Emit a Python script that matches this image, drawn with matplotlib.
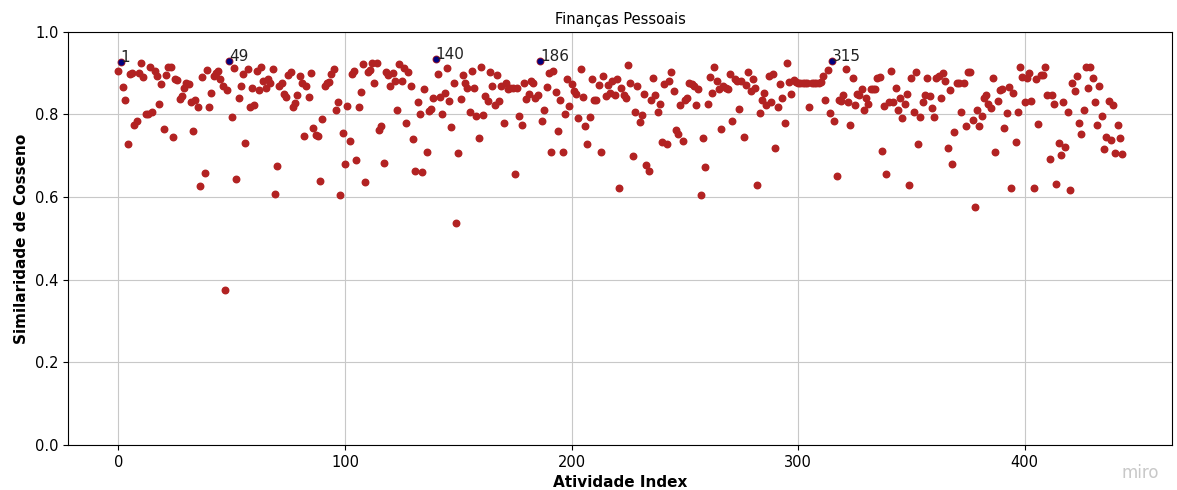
import numpy as np
import matplotlib.pyplot as plt

# cosine similarity per activity (index = position in list)
similaridade = [
    0.905, 0.928, 0.866, 0.835, 0.729, 0.897, 0.900, 0.775, 0.785, 0.900,
    0.924, 0.890, 0.802, 0.800, 0.916, 0.805, 0.905, 0.892, 0.826, 0.874,
    0.764, 0.896, 0.914, 0.914, 0.746, 0.885, 0.883, 0.837, 0.845, 0.863,
    0.877, 0.873, 0.829, 0.759, 0.836, 0.818, 0.626, 0.891, 0.658, 0.907,
    0.818, 0.851, 0.892, 0.900, 0.905, 0.885, 0.870, 0.375, 0.860, 0.930,
    0.795, 0.912, 0.643, 0.840, 0.868, 0.897, 0.732, 0.910, 0.818, 0.864,
    0.823, 0.905, 0.860, 0.914, 0.881, 0.864, 0.885, 0.876, 0.910, 0.608,
    0.676, 0.868, 0.877, 0.850, 0.843, 0.896, 0.904, 0.819, 0.827, 0.846,
    0.893, 0.876, 0.749, 0.868, 0.842, 0.900, 0.767, 0.750, 0.747, 0.638,
    0.790, 0.870, 0.876, 0.878, 0.897, 0.910, 0.811, 0.830, 0.604, 0.755,
    0.680, 0.821, 0.736, 0.897, 0.905, 0.690, 0.817, 0.855, 0.922, 0.636,
    0.902, 0.908, 0.924, 0.876, 0.924, 0.763, 0.771, 0.682, 0.902, 0.896,
    0.868, 0.900, 0.880, 0.811, 0.922, 0.882, 0.912, 0.779, 0.904, 0.868,
    0.740, 0.663, 0.829, 0.800, 0.660, 0.862, 0.710, 0.809, 0.814, 0.841,
    0.934, 0.898, 0.843, 0.800, 0.851, 0.912, 0.833, 0.769, 0.877, 0.538,
    0.706, 0.837, 0.896, 0.877, 0.864, 0.807, 0.906, 0.864, 0.797, 0.742,
    0.914, 0.799, 0.845, 0.833, 0.904, 0.868, 0.822, 0.896, 0.833, 0.868,
    0.779, 0.876, 0.861, 0.864, 0.865, 0.656, 0.864, 0.797, 0.775, 0.877,
    0.838, 0.849, 0.880, 0.877, 0.840, 0.846, 0.930, 0.783, 0.810, 0.866,
    0.900, 0.710, 0.906, 0.855, 0.760, 0.834, 0.710, 0.800, 0.885, 0.821,
    0.874, 0.858, 0.850, 0.791, 0.910, 0.843, 0.771, 0.728, 0.795, 0.886,
    0.834, 0.834, 0.872, 0.710, 0.894, 0.845, 0.872, 0.853, 0.881, 0.847,
    0.885, 0.621, 0.864, 0.848, 0.841, 0.920, 0.877, 0.700, 0.806, 0.868,
    0.781, 0.799, 0.849, 0.678, 0.662, 0.834, 0.888, 0.847, 0.807, 0.825,
    0.734, 0.874, 0.728, 0.880, 0.904, 0.858, 0.763, 0.752, 0.823, 0.736,
    0.834, 0.840, 0.877, 0.873, 0.869, 0.823, 0.862, 0.605, 0.742, 0.672,
    0.825, 0.890, 0.851, 0.916, 0.882, 0.862, 0.764, 0.868, 0.865, 0.861,
    0.897, 0.785, 0.885, 0.881, 0.813, 0.880, 0.745, 0.872, 0.904, 0.858,
    0.885, 0.865, 0.630, 0.803, 0.834, 0.853, 0.823, 0.892, 0.829, 0.898,
    0.718, 0.817, 0.874, 0.840, 0.779, 0.924, 0.878, 0.849, 0.884, 0.878,
    0.877, 0.876, 0.876, 0.877, 0.876, 0.817, 0.876, 0.877, 0.876, 0.877,
    0.878, 0.892, 0.834, 0.908, 0.803, 0.930, 0.785, 0.650, 0.835, 0.833,
    0.846, 0.910, 0.831, 0.775, 0.888, 0.823, 0.849, 0.846, 0.862, 0.810,
    0.840, 0.825, 0.862, 0.862, 0.861, 0.888, 0.890, 0.712, 0.821, 0.655,
    0.829, 0.905, 0.831, 0.864, 0.810, 0.841, 0.792, 0.825, 0.850, 0.630,
    0.888, 0.806, 0.902, 0.728, 0.795, 0.829, 0.846, 0.888, 0.844, 0.815,
    0.795, 0.888, 0.893, 0.840, 0.900, 0.880, 0.718, 0.860, 0.680, 0.757,
    0.877, 0.877, 0.807, 0.877, 0.773, 0.902, 0.904, 0.787, 0.575, 0.810,
    0.771, 0.797, 0.840, 0.847, 0.826, 0.815, 0.888, 0.708, 0.833, 0.860,
    0.862, 0.768, 0.803, 0.866, 0.623, 0.853, 0.734, 0.807, 0.914, 0.890,
    0.831, 0.888, 0.900, 0.833, 0.621, 0.885, 0.777, 0.896, 0.896, 0.914,
    0.848, 0.693, 0.848, 0.826, 0.632, 0.732, 0.702, 0.831, 0.721, 0.807,
    0.618, 0.877, 0.858, 0.894, 0.779, 0.753, 0.810, 0.914, 0.864, 0.914,
    0.888, 0.831, 0.775, 0.870, 0.797, 0.717, 0.745, 0.833, 0.738, 0.823,
    0.706, 0.775, 0.742, 0.704,
]

# activities highlighted with their index
destaques = [1, 49, 140, 186, 315]

idx = np.arange(len(similaridade))
valores = np.array(similaridade)

fig, ax = plt.subplots(figsize=(11.77, 4.90), dpi=100)
fig.subplots_adjust(left=0.058, right=0.996, top=0.935, bottom=0.092)

ax.scatter(idx, valores, s=22, color="#b22222", zorder=2)
ax.scatter(destaques, valores[destaques], s=12, color="#000080", zorder=3)
for i in destaques:
    ax.annotate(str(i), (i, valores[i]), fontsize=11, color="#222222")

ax.set_ylim(0, 1.0)
ax.grid(True, color="#c8c8c8", linewidth=0.8)
ax.set_axisbelow(True)
ax.set_title("Finanças Pessoais", fontsize=10.5)
ax.set_xlabel("Atividade Index", fontsize=11, fontweight="bold")
ax.set_ylabel("Similaridade de Cosseno", fontsize=11, fontweight="bold")
ax.tick_params(labelsize=10.5)

fig.text(0.985, 0.025, "miro", fontsize=12, color="#c8c8c8", ha="right")

fig.savefig("out.png", dpi=100)
